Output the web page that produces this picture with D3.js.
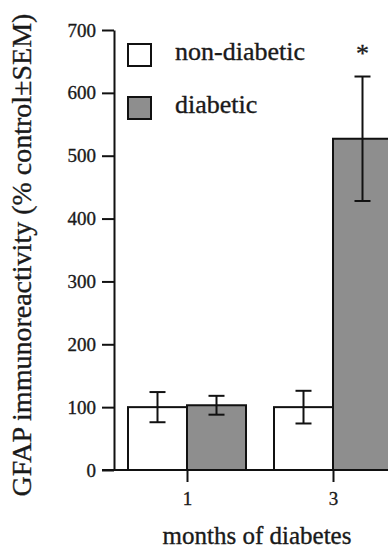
<!DOCTYPE html>
<html>
<head>
<meta charset="utf-8">
<script src="https://cdn.jsdelivr.net/npm/d3@7"></script>
<style>
  body { margin: 0; background: #fff; }
</style>
</head>
<body>
<svg id="chart" width="388" height="548"></svg>
<script>
// data
var months = ["1", "3"];
var groups = ["non-diabetic", "diabetic"];
var nonDiabetic = [100, 100];
var nonDiabeticSem = [24, 26];
var diabetic = [103, 527];
var diabeticSem = [15, 99];
var yTicks = [0, 100, 200, 300, 400, 500, 600, 700];
var significant = [false, true];

var rows = [];
months.forEach(function (m, i) {
    rows.push({ month: m, group: "non-diabetic", value: nonDiabetic[i], sem: nonDiabeticSem[i] });
    rows.push({ month: m, group: "diabetic", value: diabetic[i], sem: diabeticSem[i] });
});

var SERIF = "'Liberation Serif', 'Times New Roman', serif";
function serif(sel, size) {
    sel.style("font-family", SERIF)
        .style("font-size", size + "px")
        .attr("fill", "#1a1a1a")
        .attr("stroke", "#1a1a1a")
        .attr("stroke-width", 0.35);
}

var svg = d3.select("#chart");

var fill = { "non-diabetic": "#ffffff", "diabetic": "#8e8e8e" };

var y = d3.scaleLinear().domain([0, 700]).range([470, 30]);
var x = d3.scalePoint().domain(months).range([187, 333]);
var xSub = d3.scaleBand().domain(groups).range([-59, 59]);

// bars
svg.append("g").selectAll("rect")
    .data(rows)
    .join("rect")
    .attr("x", function (d) { return x(d.month) + xSub(d.group); })
    .attr("y", function (d) { return y(d.value); })
    .attr("width", xSub.bandwidth())
    .attr("height", function (d) { return y(0) - y(d.value); })
    .attr("fill", function (d) { return fill[d.group]; })
    .attr("stroke", "#111")
    .attr("stroke-width", 2);

// error bars
var err = svg.append("g").attr("stroke", "#111").attr("stroke-width", 2);
rows.forEach(function (d) {
    var cx = x(d.month) + xSub(d.group) + xSub.bandwidth() / 2;
    err.append("line").attr("x1", cx).attr("x2", cx)
        .attr("y1", y(d.value + d.sem)).attr("y2", y(d.value - d.sem));
    [d.value + d.sem, d.value - d.sem].forEach(function (v) {
        err.append("line").attr("x1", cx - 8).attr("x2", cx + 8)
            .attr("y1", y(v)).attr("y2", y(v));
    });
});

// significance star
svg.append("g").selectAll("text")
    .data(months.filter(function (m, i) { return significant[i]; }))
    .join("text")
    .attr("x", function (m) { return x(m) + xSub("diabetic") + xSub.bandwidth() / 2; })
    .attr("y", 62)
    .attr("text-anchor", "middle")
    .text("*")
    .call(serif, 26);

// y axis
var yAxis = svg.append("g")
    .attr("transform", "translate(114,0)")
    .call(d3.axisLeft(y).tickValues(yTicks).tickSize(12).tickPadding(6).tickSizeOuter(0));
yAxis.select(".domain").attr("stroke", "#111").attr("stroke-width", 2);
yAxis.selectAll(".tick line").attr("stroke", "#111").attr("stroke-width", 2);
yAxis.selectAll(".tick text").call(serif, 19);

// x axis
svg.append("line").attr("x1", 102).attr("x2", 388).attr("y1", y(0)).attr("y2", y(0))
    .attr("stroke", "#111").attr("stroke-width", 2);
var xAxis = svg.append("g")
    .attr("transform", "translate(0," + y(0) + ")")
    .call(d3.axisBottom(x).tickSize(12).tickPadding(10));
xAxis.select(".domain").remove();
xAxis.selectAll(".tick line").attr("stroke", "#111").attr("stroke-width", 2);
xAxis.selectAll(".tick text").call(serif, 19);

// axis titles
svg.append("text")
    .attr("transform", "translate(31,255) rotate(-90)")
    .attr("text-anchor", "middle")
    .text("GFAP immunoreactivity (% control\u00b1SEM)")
    .call(serif, 28);

svg.append("text")
    .attr("x", 257).attr("y", 544)
    .attr("text-anchor", "middle")
    .text("months of diabetes")
    .call(serif, 25);

// legend
var legend = svg.append("g").selectAll("g")
    .data(groups)
    .join("g")
    .attr("transform", function (d, i) { return "translate(128," + (44 + i * 53) + ")"; });
legend.append("rect")
    .attr("width", 23).attr("height", 22)
    .attr("fill", function (d) { return fill[d]; })
    .attr("stroke", "#111").attr("stroke-width", 2);
legend.append("text")
    .attr("x", 47).attr("y", 16)
    .text(function (d) { return d; })
    .call(serif, 26);
</script>
</body>
</html>
